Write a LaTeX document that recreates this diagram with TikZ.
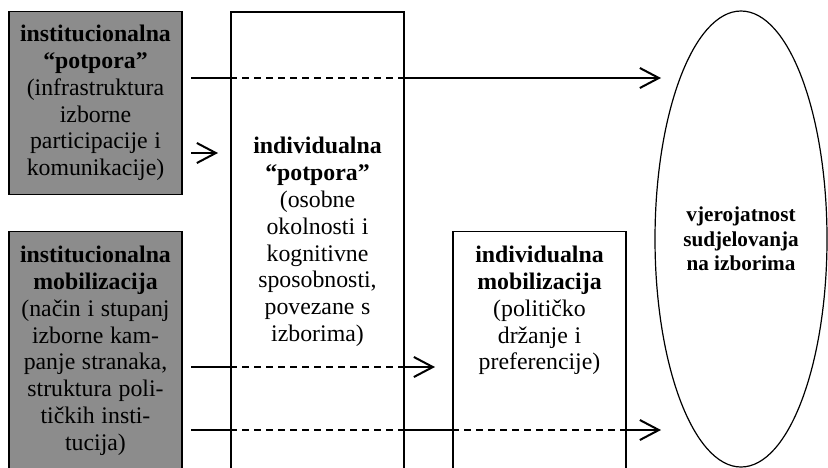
\documentclass[tikz,border=0pt]{standalone}
\usepackage{fontspec}
\setmainfont{Liberation Serif}
\usetikzlibrary{arrows.meta,shapes.geometric,calc}
\definecolor{boxGray}{RGB}{140,140,140}

\begin{document}
\begin{tikzpicture}[
                x=0.5pt,y=-0.5pt,
                panel/.style={draw=black,line width=0.7pt,minimum width=86.5pt,
                           text width=86pt,align=center,inner xsep=0pt,
                           execute at begin node={\fontsize{11.9}{13.4}\selectfont}},
                topPanel/.style={panel,anchor=north,text height=9pt,text depth=240pt,inner ysep=6.5pt},
                goal/.style={draw=black,line width=0.6pt,ellipse,minimum width=86pt,minimum height=228pt,
                           inner sep=0pt,align=center,
                           execute at begin node={\fontsize{10.6}{12.2}\selectfont\bfseries}},
                link/.style={line width=1pt},
                linkDash/.style={line width=0.7pt,dash pattern=on 3.5pt off 2.5pt},
                arrowEnd/.style={-{Straight Barb[length=9.5pt,width=10pt]}}
            ]
                \useasboundingbox (0,0) rectangle (828,467);
                \clip (0,0) rectangle (828,467);
                \node[panel,fill=boxGray,minimum height=91.5pt] (instSup) at (95.5,103)
                    {\textbf{institucionalna}\\\textbf{“potpora”}\\(infrastruktura\\izborne\\participacije i\\komunikacije)};
                \node[topPanel,fill=boxGray] (instMob) at (95.5,231)
                    {\textbf{institucionalna}\\\textbf{mobilizacija}\\(način i stupanj\\izborne kam-\\panje stranaka,\\struktura poli-\\tičkih insti-\\tucija)};
                \node[panel,minimum height=230pt] (indSup) at (317.5,242)
                    {\textbf{individualna}\\\textbf{“potpora”}\\(osobne\\okolnosti i\\kognitivne\\sposobnosti,\\povezane s\\izborima)};
                \node[topPanel] (indMob) at (539.5,231)
                    {\textbf{individualna}\\\textbf{mobilizacija}\\(političko\\držanje i\\preferencije)};
                \node[goal] (vote) at (741,239) {vjerojatnost\\sudjelovanja\\na izborima};

                \coordinate (supStart) at (191,78);
                \coordinate (supEnd) at (661,78);
                \coordinate (supInd) at (191,153);
                \coordinate (supIndEnd) at (218,153);
                \coordinate (mobStart) at (191,367);
                \coordinate (mobEnd) at (435,367);
                \coordinate (mobDirect) at (191,430);
                \coordinate (mobDirectEnd) at (661,430);

                % institutional support -> probability
                \draw[link] (supStart) -- (supStart -| indSup.west);
                \draw[linkDash] (supStart -| indSup.west) -- (supStart -| indSup.east);
                \draw[link,arrowEnd] (supStart -| indSup.east) -- (supEnd);
                \draw[link,arrowEnd] (supInd) -- (supIndEnd);

                % institutional mobilisation -> individual mobilisation
                \draw[link] (mobStart) -- (mobStart -| indSup.west);
                \draw[linkDash] (mobStart -| indSup.west) -- (mobStart -| indSup.east);
                \draw[link,arrowEnd] (mobStart -| indSup.east) -- (mobEnd);

                % institutional mobilisation -> probability
                \draw[link] (mobDirect) -- (mobDirect -| indSup.west);
                \draw[linkDash] (mobDirect -| indSup.west) -- (mobDirect -| indSup.east);
                \draw[link] (mobDirect -| indSup.east) -- (mobDirect -| indMob.west);
                \draw[linkDash] (mobDirect -| indMob.west) -- (mobDirect -| indMob.east);
                \draw[link,arrowEnd] (mobDirect -| indMob.east) -- (mobDirectEnd);
            \end{tikzpicture}
\end{document}
